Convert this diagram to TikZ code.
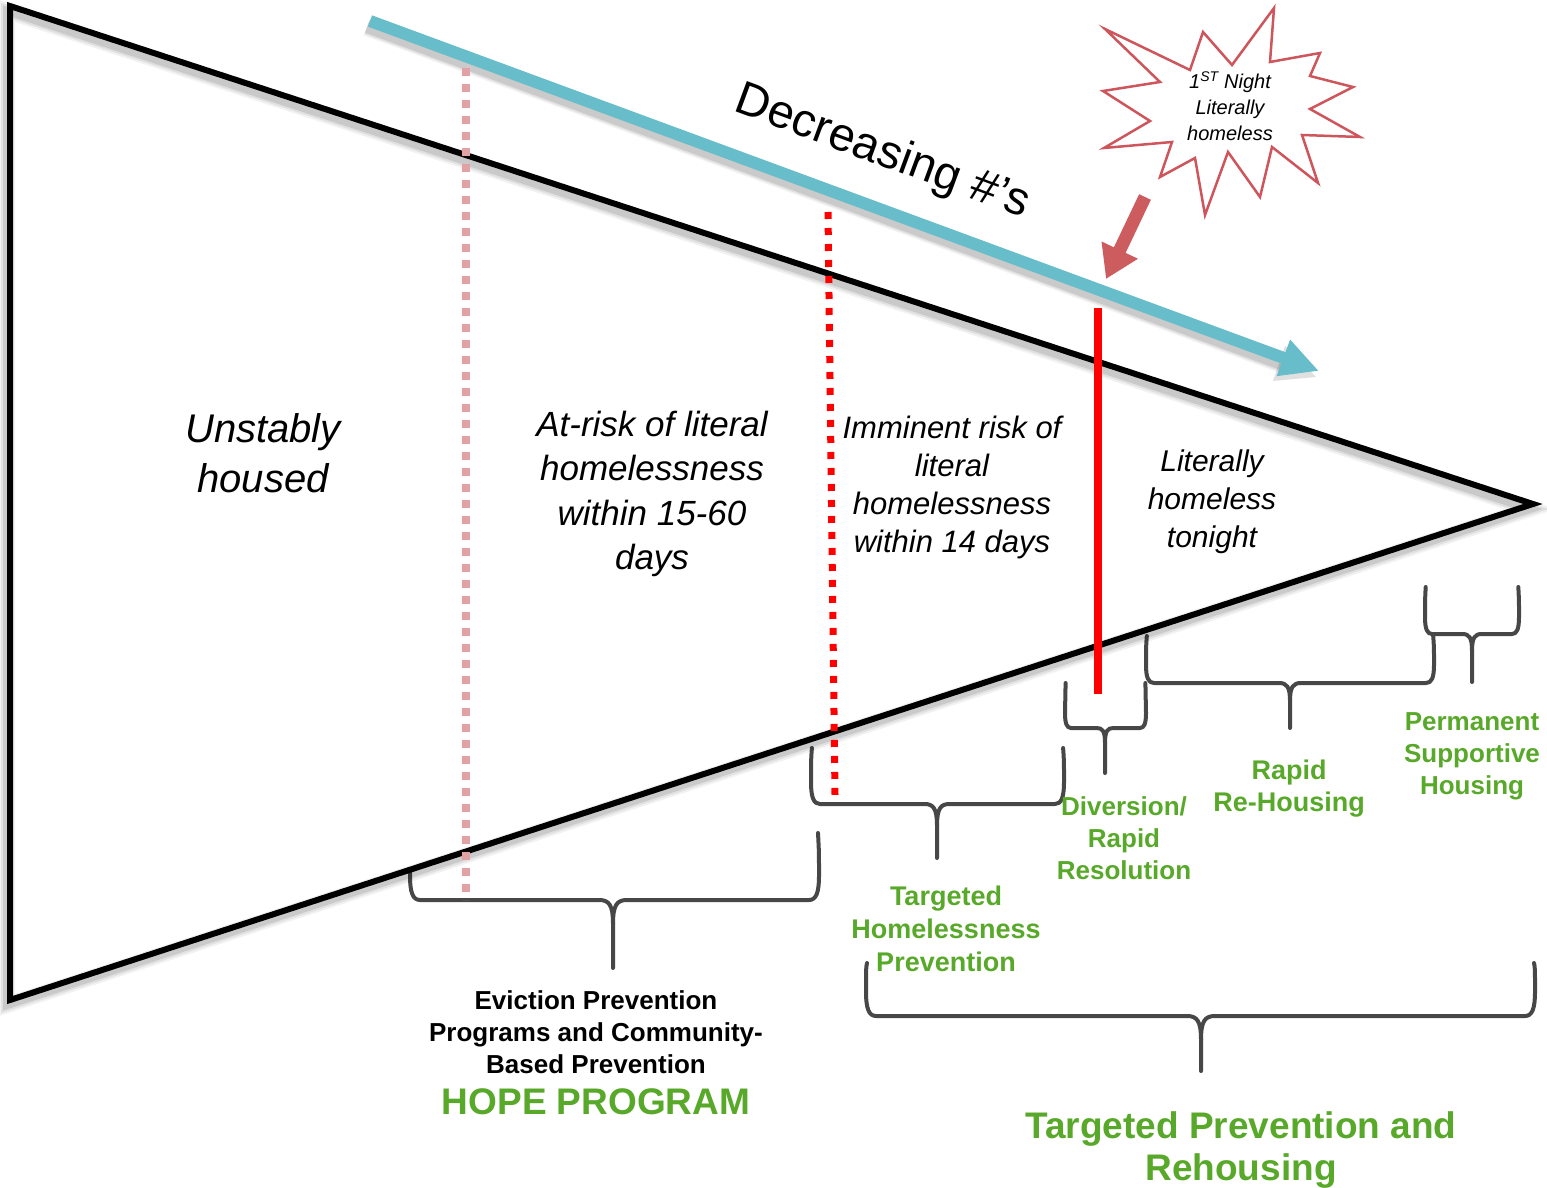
\documentclass[tikz,border=0pt]{standalone}
\usepackage{fontspec}
\setmainfont{Liberation Sans}
\usetikzlibrary{arrows.meta}

\definecolor{arrowblue}{RGB}{103,189,202}
\definecolor{pinkline}{RGB}{227,160,165}
\definecolor{burstred}{RGB}{205,85,91}
\definecolor{pointred}{RGB}{205,92,95}
\definecolor{labelgreen}{RGB}{88,168,41}
\definecolor{braceg}{RGB}{71,71,71}

% downward curly brace: left x, right x, top y, bar y, tip x, tip y, corner width, corner height
\newcommand\downbrace[8]{%
  \draw[bracestroke] (#5,#6) -- (#5,#4+#8) .. controls (#5,#4+0.2*#8) and (#5-0.4*#7,#4) .. (#5-1.4*#7,#4)
    -- (#1+#7,#4) .. controls (#1+0.3*#7,#4) and (#1,#4-0.3*#8) .. (#1,#4-#8)
    .. controls (#1,#4-2*#8) .. (#1+0.1*#7,#3);
  \draw[bracestroke] (#5,#4+#8) .. controls (#5,#4+0.2*#8) and (#5+0.4*#7,#4) .. (#5+1.4*#7,#4)
    -- (#2-#7,#4) .. controls (#2-0.3*#7,#4) and (#2,#4-0.3*#8) .. (#2,#4-#8)
    .. controls (#2,#4-2*#8) .. (#2-0.1*#7,#3);
}

\begin{document}
\begin{tikzpicture}[x=1pt,y=-1pt,
  bracestroke/.style={draw=braceg, line width=4pt, line cap=round, line join=round},
  stagelabel/.style={align=center, inner sep=0pt, text=black},
  greenlabel/.style={align=center, inner sep=0pt, text=labelgreen},
]
\useasboundingbox (0,0) rectangle (1547,1188);

% ---- braces (drawn first, the funnel covers their hidden ends)
\downbrace{410}{819}{833}{900}{613}{968}{10}{24}
\downbrace{811}{1064}{748}{804}{937}{858}{9}{22}
\downbrace{1065}{1146}{683}{728}{1105}{773}{6}{15}
\downbrace{1146}{1434}{636}{683}{1290}{728}{8}{18}
\downbrace{1425}{1519}{587}{634}{1472}{682}{7}{17}
\downbrace{866}{1535}{963}{1016}{1201}{1071}{10}{24}

% ---- funnel
\coordinate (tl) at (10,6);
\coordinate (bl) at (10,1000);
\coordinate (tip) at (1533,504);
\fill[white] (tl) -- (bl) -- (tip) -- cycle;
\foreach \lw/\op in {16/0.05, 12/0.07, 8/0.10}
  \draw[line width=\lw pt, black, opacity=\op, line join=miter, shift={(-3,5)}]
    (10,6) -- (10,1000) -- (1533,504) -- cycle;
\draw[line width=6pt, black, line join=miter] (tl) -- (bl) -- (tip) -- cycle;

% ---- decreasing arrow
\coordinate (da) at (370,21);
\coordinate (db) at (1319,371);
\foreach \lw/\op in {18/0.05, 15/0.07, 12/0.10}
  \draw[line width=\lw pt, black, opacity=\op, shift={(-3,6)}] (370,21) -- (1290,360);
\fill[black, opacity=0.12, shift={(-3,6)}] (1319,371) -- (1288,340) -- (1276,375) -- cycle;
\draw[arrowblue, line width=12pt, -{Triangle[length=38pt,width=36pt]}] (da) -- (db);
\node[rotate=-20.3, inner sep=0pt, font={\fontsize{47}{50}\selectfont}] (dec) at (882,153) {Decreasing \#’s};

% ---- stage dividers
\coordinate (p1) at (466,68);   \coordinate (p2) at (466,900);
\coordinate (r1) at (828,212);  \coordinate (r2) at (835,795);
\coordinate (s1) at (1098,308); \coordinate (s2) at (1098,694);
\draw[pinkline, line width=8pt, dash pattern=on 8pt off 8pt] (p1) -- (p2);
\draw[red, line width=7pt, dash pattern=on 7pt off 9pt] (r1) -- (r2);
\draw[red, line width=8pt] (s1) -- (s2);

% ---- first night burst
\draw[burstred, fill=white, line width=2.5pt, line join=miter]
  (1105,29) -- (1160,82) -- (1103,91) -- (1150,121) -- (1104,148) -- (1172,142)
  -- (1160,177) -- (1195,158) -- (1205,215) -- (1228,152) -- (1260,197)
  -- (1272,147) -- (1318,183) -- (1302,135) -- (1360,137) -- (1310,109)
  -- (1353,87) -- (1310,76) -- (1320,53) -- (1270,62) -- (1274,8)
  -- (1232,65) -- (1203,32) -- (1190,70) -- cycle;
\node[stagelabel, font={\fontsize{20}{26}\selectfont\itshape}] (burst) at (1230,106)
  {1\textsuperscript{ST} Night\\Literally\\homeless};
\coordinate (ra) at (1145,197);
\coordinate (rb) at (1106,279);
\draw[pointred, line width=13pt, -{Triangle[length=32pt,width=38pt]}] (ra) -- (rb);

% ---- stage texts
\node[stagelabel, font={\fontsize{40}{50}\selectfont\itshape}] (unst) at (263,453)
  {Unstably\\housed};
\node[stagelabel, font={\fontsize{35}{44.5}\selectfont\itshape}] (atrisk) at (652,494)
  {At-risk of literal\\homelessness\\within 15-60\\days};
\node[stagelabel, font={\fontsize{31}{38}\selectfont\itshape}] (immin) at (952,487)
  {Imminent risk of\\literal\\homelessness\\within 14 days};
\node[stagelabel, font={\fontsize{30}{38}\selectfont\itshape}] (lit) at (1212,502)
  {Literally\\homeless\\tonight};

% ---- programme labels
\node[greenlabel, font={\fontsize{26}{32}\selectfont\bfseries}] (psh) at (1472,756)
  {Permanent\\Supportive\\Housing};
\node[greenlabel, font={\fontsize{27}{32}\selectfont\bfseries}] (rrh) at (1289,789)
  {Rapid\\Re-Housing};
\node[greenlabel, font={\fontsize{26}{32}\selectfont\bfseries}] (div) at (1124,838)
  {Diversion/\\Rapid\\Resolution};
\node[greenlabel, font={\fontsize{27}{33}\selectfont\bfseries}] (thp) at (946,929)
  {Targeted\\Homelessness\\Prevention};
\node[stagelabel, font={\fontsize{26}{32}\selectfont\bfseries}] (evict) at (596,1032)
  {Eviction Prevention\\Programs and Community-\\Based Prevention};
\node[greenlabel, font={\fontsize{37}{40}\selectfont\bfseries}] (hope) at (596,1102)
  {HOPE PROGRAM};
\node[greenlabel, font={\fontsize{37}{42}\selectfont\bfseries}] (tpr) at (1241,1150)
  {Targeted Prevention and\\Rehousing};
\end{tikzpicture}
\end{document}
